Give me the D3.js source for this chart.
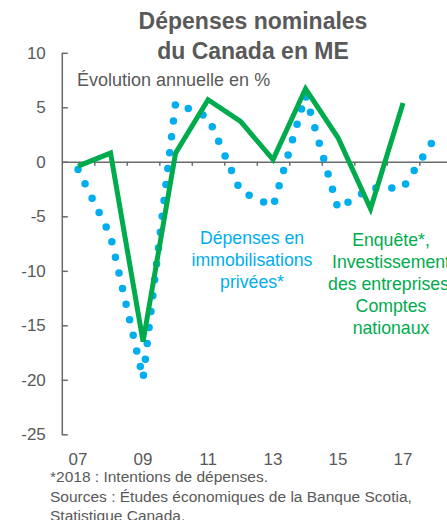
<!DOCTYPE html>
<html>
<head>
<meta charset="utf-8">
<script src="https://cdn.jsdelivr.net/npm/d3@7"></script>
<style>
	body { margin: 0; background: #fff; }
	svg { display: block; font-family: 'Liberation Sans', Arial, sans-serif; }
</style>
</head>
<body>
<div id="main-content"></div>
<script>
'use strict'

// années (étiquettes aux années impaires)
const years = [2007, 2008, 2009, 2010, 2011, 2012, 2013, 2014, 2015, 2016, 2017, 2018]
const tickYears = [2007, 2009, 2011, 2013, 2015, 2017]
const yTicks = [10, 5, 0, -5, -10, -15, -20, -25]

// Dépenses en immobilisations privées* (pointillé bleu)
const privees = [-0.7, -6.8, -19.9, 5.4, 4.1, -2.7, -4.1, 6.1, -4.3, -2.4, -2.4, 2.3]
// Enquête*, Investissement des entreprises, Comptes nationaux (vert)
const enquete = [-0.4, 0.8, -16.5, 0.8, 5.7, 3.7, 0.2, 6.7, 2.2, -4.3, 5.4]

const titleLines = ['Dépenses nominales', 'du Canada en ME']
const blueLabel = ['Dépenses en', 'immobilisations', 'privées*']
const greenLabel = ['Enquête*,', 'Investissement', 'des entreprises,', 'Comptes', 'nationaux']
const notes = ['*2018 : Intentions de dépenses.',
	'Sources : Études économiques de la Banque Scotia,',
	'Statistique Canada.']

const width = 447,
		height = 520

const grey = '#595959',
		blue = '#00AEEF',
		green = '#00AB4E'

const svg = d3.select('#main-content').append('svg')
	.attr('width', width)
	.attr('height', height)

const x = d3.scaleLinear()
	.domain([2006.5, 2018.5])
	.range([61.8, 451.8])

const y = d3.scaleLinear()
	.domain([-25, 10])
	.range([434.3, 52.8])

// titre
svg.append('g').selectAll('text')
	.data(titleLines)
	.enter().append('text')
		.attr('x', 253)
		.attr('y', (d, i) => 28.5 + i * 30)
		.attr('text-anchor', 'middle')
		.attr('font-size', 23)
		.attr('font-weight', 'bold')
		.attr('fill', grey)
		.text(d => d)

svg.append('text')
	.attr('x', 77)
	.attr('y', 86)
	.attr('font-size', 18)
	.attr('fill', grey)
	.text('Évolution annuelle en %')

// axe vertical, graduations vers l'intérieur
const yAxis = svg.append('g')
	.attr('transform', `translate(${x(2006.5)},0)`)
	.call(d3.axisRight(y).tickValues(yTicks).tickSize(6).tickSizeOuter(0).tickFormat(d3.format('d')))

yAxis.select('.domain').attr('stroke', '#6b6b6b').attr('stroke-width', 1.5)
yAxis.selectAll('.tick line').attr('stroke', '#6b6b6b').attr('stroke-width', 1.5)
yAxis.selectAll('.tick text')
	.attr('x', -16)
	.attr('text-anchor', 'end')
	.attr('font-size', 17)
	.attr('font-family', 'Liberation Sans, Arial, sans-serif')
	.attr('fill', grey)
	.text(d => d < 0 ? '-' + Math.abs(d) : d)

// axe horizontal à zéro
const xAxis = svg.append('g')
	.attr('transform', `translate(0,${y(0)})`)
	.call(d3.axisBottom(x).tickValues(d3.range(2007.5, 2018.5, 1)).tickSize(4).tickSizeOuter(0).tickFormat(''))

xAxis.select('.domain').attr('stroke', '#6b6b6b').attr('stroke-width', 1.5)
xAxis.selectAll('.tick line').attr('stroke', '#6b6b6b').attr('stroke-width', 1.5)

svg.append('g').selectAll('text')
	.data(tickYears)
	.enter().append('text')
		.attr('x', d => x(d))
		.attr('y', 464.5)
		.attr('text-anchor', 'middle')
		.attr('font-size', 17)
		.attr('fill', grey)
		.text(d => String(d).slice(2))

const line = d3.line()
	.x((d, i) => x(years[i]))
	.y(d => y(d))

// série bleue en pointillé rond
svg.append('path')
	.datum(privees)
	.attr('d', line)
	.attr('fill', 'none')
	.attr('stroke', blue)
	.attr('stroke-width', 7.5)
	.attr('stroke-linecap', 'round')
	.attr('stroke-dasharray', '0 16')

svg.append('path')
	.datum(enquete)
	.attr('d', line)
	.attr('fill', 'none')
	.attr('stroke', green)
	.attr('stroke-width', 5)
	.attr('stroke-linejoin', 'miter')

// étiquettes des séries
svg.append('g').selectAll('text')
	.data(blueLabel)
	.enter().append('text')
		.attr('x', 252)
		.attr('y', (d, i) => 244 + i * 22)
		.attr('text-anchor', 'middle')
		.attr('font-size', 17.7)
		.attr('fill', blue)
		.text(d => d)

svg.append('g').selectAll('text')
	.data(greenLabel)
	.enter().append('text')
		.attr('x', 391)
		.attr('y', (d, i) => 245.5 + i * 22)
		.attr('text-anchor', 'middle')
		.attr('font-size', 17.7)
		.attr('fill', green)
		.text(d => d)

// notes
svg.append('g').selectAll('text')
	.data(notes)
	.enter().append('text')
		.attr('x', 50)
		.attr('y', (d, i) => 482 + i * 19.6)
		.attr('font-size', 15.5)
		.attr('fill', grey)
		.text(d => d)
</script>
</body>
</html>
